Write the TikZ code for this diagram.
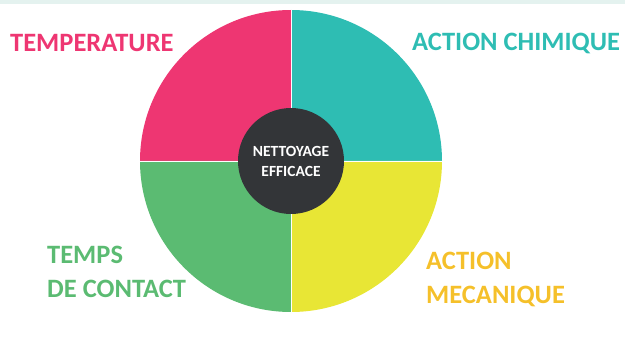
\documentclass[tikz,border=0pt]{standalone}
\usepackage{fontspec}
\setmainfont{Carlito}
\definecolor{rose}{HTML}{EE3672}
\definecolor{turquoise}{HTML}{2EBDB3}
\definecolor{vert}{HTML}{5BBB72}
\definecolor{jaune}{HTML}{E8E635}
\definecolor{orjaune}{HTML}{F5C02A}
\definecolor{anthracite}{HTML}{333538}
\definecolor{bandeau}{HTML}{E4F2EF}
\begin{document}
\begin{tikzpicture}[x=1pt,y=1pt,
  facteur/.style={anchor=west,align=left,font=\bfseries\fontsize{26.5}{34}\selectfont,inner sep=0pt}]
\useasboundingbox (0,0) rectangle (625,338);
\fill[bandeau] (0,334) rectangle (625,338);
% quarts du disque
\coordinate (c) at (291,177);
  \fill[rose] (c) -- ++(-151,0) arc (180:90:151) -- cycle;
  \fill[turquoise] (c) -- ++(0,151) arc (90:0:151) -- cycle;
  \fill[jaune] (c) -- ++(151,0) arc (0:-90:151) -- cycle;
  \fill[vert] (c) -- ++(0,-151) arc (-90:-180:151) -- cycle;
  \draw[white,line width=0.8pt] (c) ++(0,151) -- ++(0,-302);
  \draw[white,line width=0.8pt] (c) ++(-151,0) -- ++(302,0);
\node[circle,fill=anthracite,minimum size=106pt,inner sep=0pt,align=center,text=white,
  font=\bfseries\fontsize{15.5}{20}\selectfont] (centre) at (c) {NETTOYAGE\\EFFICACE};
% facteurs
\node[facteur,text=rose] (temperature) at (10,295) {TEMPERATURE};
\node[facteur,text=turquoise] (chimique) at (412,295) {ACTION CHIMIQUE};
\node[facteur,text=vert] (contact) at (47,66) {TEMPS\\DE CONTACT};
\node[facteur,text=orjaune] (mecanique) at (426,59) {ACTION\\MECANIQUE};
\end{tikzpicture}
\end{document}
